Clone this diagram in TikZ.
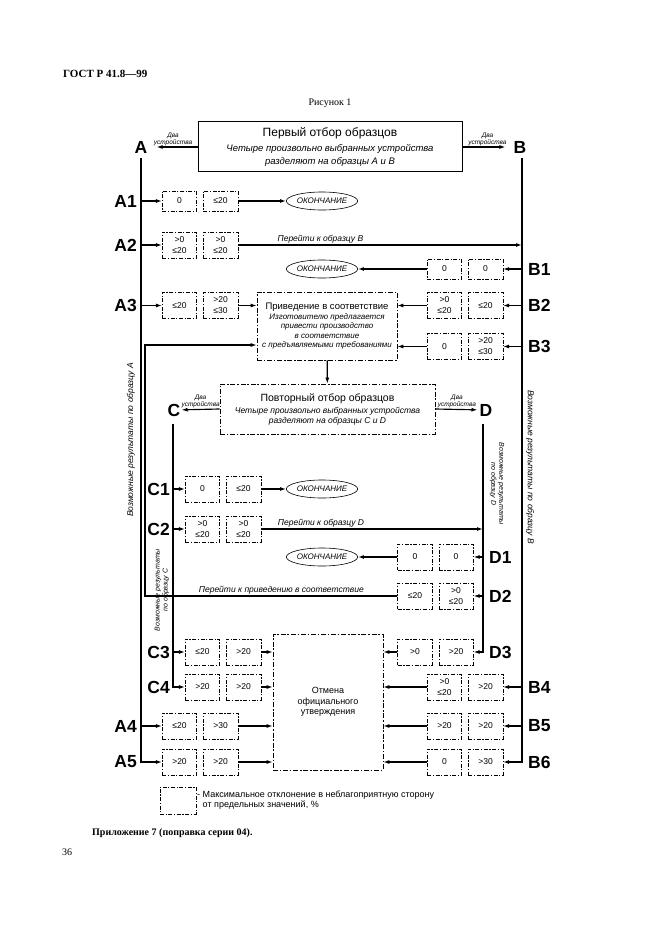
\documentclass[tikz,border=0pt]{standalone}
\usepackage{fontspec}
\setmainfont{Liberation Serif}
\setsansfont{Liberation Sans}
\usetikzlibrary{shapes, arrows.meta, positioning, calc}

\newcommand{\fsz}[2]{\fontsize{#1}{#2}\selectfont}
\newcommand{\valpair}[5][]{%
  \node[valbox, #1] (#2l) at #3 {#4};
  \node[valbox, #1, right=6pt of #2l] (#2r) {#5};}

\tikzset{
  valbox/.style={draw, dash pattern=on 4pt off 1.6pt on 1.2pt off 1.6pt, line width=0.55pt, minimum width=34.5pt, minimum height=26pt, inner sep=1pt, align=center, font=\sffamily\fsz{8.5}{11}},
  topbox/.style={draw, line width=1pt, minimum width=264pt, minimum height=50pt, inner sep=2pt, align=center, font=\sffamily\itshape\fsz{9.5}{13}},
  dashbox/.style={draw, dash pattern=on 5pt off 1.8pt on 1.5pt off 1.8pt, line width=0.6pt, inner sep=2pt, align=center, font=\sffamily\itshape\fsz{8}{9.3}},
  endnode/.style={draw, ellipse, line width=0.6pt, minimum width=61pt, minimum height=18pt, inner sep=0pt, font=\sffamily\itshape\fsz{8}{9}},
  rowlbl/.style={inner sep=1pt, font=\sffamily\bfseries\fsz{17.5}{19}},
  say/.style={inner sep=1.5pt, font=\sffamily\itshape\fsz{8.5}{10}},
  twodev/.style={inner sep=1pt, align=center, font=\sffamily\itshape\fsz{6.5}{7}},
  flow/.style={line width=1.15pt, -{Latex[length=6pt, width=4pt]}},
}

\begin{document}
\begin{tikzpicture}[x=1pt, y=-1pt]
  \useasboundingbox (0,0) rectangle (661,936);

  % page texts
  \node[anchor=west, inner sep=0pt, font=\bfseries\fsz{11}{13}] (gost) at (63,74) {ГОСТ Р 41.8—99};
  \node[font=\fsz{10}{12}] (fig) at (330,103) {Рисунок 1};
  \node[anchor=west, inner sep=0pt, font=\bfseries\fsz{10}{12}] (annex) at (92,833) {Приложение 7 (поправка серии 04).};
  \node[anchor=west, inner sep=0pt, font=\fsz{10}{12}] (page) at (62,852) {36};

  % sampling boxes
  \node[topbox] (first) at (330,147) {{\upshape\fsz{12}{14}Первый отбор образцов}\\[2pt]Четыре произвольно выбранных устройства\\разделяют на образцы A и B};
  \node[dashbox, minimum width=140pt, minimum height=68pt] (adjust) at (327,326) {{\upshape\fsz{9.5}{11}Приведение в соответствие}\\[1pt]Изготовителю предлагается\\привести производство\\в соответствие\\с предъявляемыми требованиями};
  \node[dashbox, minimum width=215pt, minimum height=50pt, font=\sffamily\itshape\fsz{8.5}{9.5}] (repeat) at (327.5,409) {{\upshape\fsz{10.5}{12}Повторный отбор образцов}\\[3pt]Четыре произвольно выбранных устройства\\разделяют на образцы C и D};
  \node[dashbox, minimum width=110pt, minimum height=136pt, font=\sffamily\fsz{9}{10.5}] (cancel) at (328,702) {Отмена\\официального\\утверждения};

  % group letters
  \node[rowlbl] (A) at (141,147) {A};
  \node[rowlbl] (B) at (520,147) {B};
  \node[rowlbl] (C) at (174,410) {C};
  \node[rowlbl] (D) at (486,410) {D};

  % deviation cells
  \valpair[minimum height=20pt]{a1}{(179.5,201)}{0}{≤20}
  \valpair{a2}{(179.5,245)}{>0\\≤20}{>0\\≤20}
  \valpair[minimum height=20pt]{b1}{(444.5,269)}{0}{0}
  \valpair{a3}{(179.5,305.5)}{≤20}{>20\\≤30}
  \valpair{b2}{(444.5,305.5)}{>0\\≤20}{≤20}
  \valpair{b3}{(444.5,346.5)}{0}{>20\\≤30}
  \valpair{c1}{(202.5,489)}{0}{≤20}
  \valpair{c2}{(202.5,529)}{>0\\≤20}{>0\\≤20}
  \valpair{d1}{(415,557)}{0}{0}
  \valpair{d2}{(415,596)}{≤20}{>0\\≤20}
  \valpair{c3}{(202.5,652)}{≤20}{>20}
  \valpair{d3}{(415,652)}{>0}{>20}
  \valpair{c4}{(202.5,687)}{>20}{>20}
  \valpair{b4}{(444.5,687)}{>0\\≤20}{>20}
  \valpair{a4}{(179.5,726)}{≤20}{>30}
  \valpair{b5}{(444.5,726)}{>20}{>20}
  \valpair{a5}{(179.5,762)}{>20}{>20}
  \valpair{b6}{(444.5,762)}{0}{>30}

  \node[endnode] (endA1) at (322,201) {ОКОНЧАНИЕ};
  \node[endnode] (endB1) at (322,269) {ОКОНЧАНИЕ};
  \node[endnode] (endC1) at (322,489) {ОКОНЧАНИЕ};
  \node[endnode] (endD1) at (322,557) {ОКОНЧАНИЕ};

  % row labels
  \foreach \n/\y in {A1/201, A2/245, A3/305.5, A4/726, A5/762}
    \node[rowlbl, anchor=east] (l\n) at (138,\y) {\n};
  \foreach \n/\y in {B1/269, B2/305.5, B3/346.5, B4/687, B5/726, B6/762}
    \node[rowlbl, anchor=west] (l\n) at (527,\y) {\n};
  \foreach \n/\y in {C1/489, C2/529, C3/652, C4/687}
    \node[rowlbl, anchor=east] (l\n) at (171,\y) {\n};
  \foreach \n/\y in {D1/557, D2/596, D3/652}
    \node[rowlbl, anchor=west] (l\n) at (488,\y) {\n};

  % side notes
  \node[say, rotate=90] (noteA) at (131,440) {Возможные результаты по образцу А};
  \node[say, rotate=-90] (noteB) at (530,467) {Возможные результаты по образцу B};
  \node[say, rotate=90, align=center, font=\sffamily\itshape\fsz{7}{8}] (noteC) at (162,590) {Возможные результаты\\по образцу C};
  \node[say, rotate=-90, align=center, font=\sffamily\itshape\fsz{7}{8}] (noteD) at (497,484) {Возможные результаты\\по образцу D};

  % lanes
  \coordinate (Atop) at (141,158);
  \coordinate (Btop) at (522,158);
  \coordinate (Ctop) at (173,424);
  \coordinate (Dtop) at (483,424);
  \coordinate (loop) at (145,345);

  \draw[flow, shorten >=8pt] (first.west) -- (A) node[midway, above, twodev] {Два\\устройства};
  \draw[flow, shorten >=7pt] (first.east) -- (B) node[midway, above, twodev] {Два\\устройства};
  \draw[flow] (repeat.west) -- (C) node[midway, above, twodev] {Два\\устройства};
  \draw[flow, shorten >=1pt] (repeat.east) -- (D) node[midway, above, twodev] {Два\\устройства};

  \draw[flow] (Atop) |- (a5l);
  \draw[flow] (Btop) |- (b6r);
  \draw[flow] (Ctop) |- (c4l);
  \draw[flow] (Dtop) |- (d3r);
  \foreach \r in {a1,a2,a3,a4} \draw[flow] (Atop |- \r l) -- (\r l);
  \foreach \r in {b1,b2,b3,b4,b5} \draw[flow] (Btop |- \r r) -- (\r r);
  \foreach \r in {c1,c2,c3} \draw[flow] (Ctop |- \r l) -- (\r l);
  \foreach \r in {d1,d2} \draw[flow] (Dtop |- \r r) -- (\r r);

  \draw[flow] (a1r) -- (endA1);
  \draw[flow] (b1l) -- (endB1);
  \draw[flow] (c1r) -- (endC1);
  \draw[flow] (d1l) -- (endD1);
  \draw[flow] (a2r) -- (Btop |- a2r) node[pos=0.29, above, say] {Перейти к образцу B};
  \draw[flow] (c2r) -- (Dtop |- c2r) node[pos=0.27, above, say] {Перейти к образцу D};

  \draw[flow] (a3r) -- (adjust.west |- a3r);
  \foreach \r in {b2,b3} \draw[flow] (\r l) -- (adjust.east |- \r l);
  \draw[flow] (d2l) -| (loop) node[pos=0.23, above, say] {Перейти к приведению в соответствие} -- (adjust.west |- loop);
  \draw[flow] (adjust) -- (repeat);

  \foreach \r in {c3,c4,a4,a5} \draw[flow] (\r r) -- (cancel.west |- \r r);
  \foreach \r in {d3,b4,b5,b6} \draw[flow] (\r l) -- (cancel.east |- \r l);

  % legend
  \node[valbox, minimum width=36pt, minimum height=27pt] (key) at (178,800.5) {};
  \node[anchor=west, inner sep=0pt, align=left, font=\sffamily\fsz{9}{10.5}] (keytxt) at (197,800) {- Максимальное отклонение в неблагоприятную сторону\\\hphantom{- }от предельных значений, \%};
\end{tikzpicture}
\end{document}
